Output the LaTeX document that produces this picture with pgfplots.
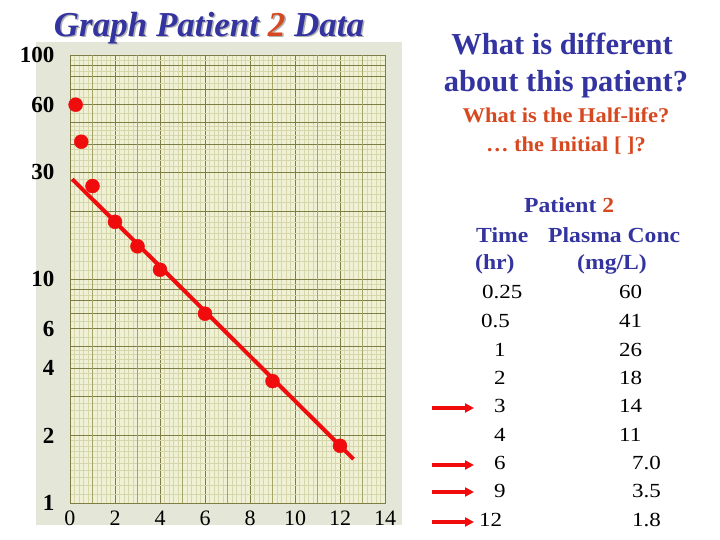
\documentclass[border=0pt]{standalone}
\usepackage{fontspec}
\setmainfont{Liberation Serif}
\newfontfamily\stretchA[FakeStretch=1.1]{Liberation Serif}
\newfontfamily\stretchB[FakeStretch=1.15]{Liberation Serif}
\newfontfamily\stretchC[FakeStretch=1.07]{Liberation Serif}
\usepackage{pgfplots}
\pgfplotsset{compat=1.18}
\usetikzlibrary{arrows.meta}
\definecolor{tblue}{RGB}{52,52,160}
\definecolor{tred}{RGB}{214,72,32}
\definecolor{paperc}{RGB}{228,230,216}
\definecolor{gridbg}{RGB}{240,240,212}
\definecolor{gmaj}{RGB}{125,125,68}
\definecolor{gmid}{RGB}{165,165,105}
\definecolor{gmin}{RGB}{214,214,172}
\definecolor{ptred}{RGB}{240,12,12}
\begin{document}
\begin{tikzpicture}
\path (0,0) rectangle (720pt,540pt);
\fill[paperc] (36pt,15pt) rectangle (402pt,498pt);
% title with shadow
\node[anchor=base, text=black!30, font=\bfseries\itshape\fontsize{35}{35}\selectfont] at (210.5pt,502pt) {Graph Patient 2 Data};
\node[anchor=base, text=tblue, font=\bfseries\itshape\fontsize{35}{35}\selectfont] at (209pt,503pt) {Graph Patient \textcolor{tred}{2} Data};
\begin{axis}[
  at={(70pt,37pt)}, anchor=south west,
  scale only axis, width=315pt, height=448pt,
  xmin=0, xmax=14, ymin=1, ymax=100, ymode=log,
  clip=false,
  axis background/.style={fill=gridbg},
  axis line style={draw=gmaj, line width=0.6pt},
  tick style={draw=none},
  xtick={0,2,...,14},
  minor x tick num=9,
  extra x ticks={1,3,5,7,9,11,13},
  extra x tick labels={},
  extra x tick style={grid=major, major grid style={draw=gmid, line width=0.5pt}},
  ytick={1,2,3,4,5,6,7,8,9,10,20,30,40,50,60,70,80,90,100},
  yticklabels={1,2,{},4,{},6,{},{},{},10,{},30,{},{},60,{},{},{},100},
  minor ytick={1.1,1.2,1.3,1.4,1.5,1.6,1.7,1.8,1.9,2.2,2.4,2.6,2.8,3.2,3.4,3.6,3.8,4.2,4.4,4.6,4.8,5.5,6.5,7.5,8.5,9.5,
    11,12,13,14,15,16,17,18,19,22,24,26,28,32,34,36,38,42,44,46,48,55,65,75,85,95},
  grid=both,
  major grid style={draw=gmaj, line width=0.6pt},
  minor grid style={draw=gmin, line width=0.35pt},
  /pgf/number format/assume math mode=true,
  xticklabel style={font=\fontsize{22}{22}\selectfont, yshift=-4pt},
  yticklabel style={font=\bfseries\fontsize{23}{23}\selectfont, xshift=-12pt},
]
\addplot[ptred, line width=4pt] coordinates {(0.1,27.9) (12.6,1.57)};
\addplot[only marks, mark=*, mark size=7pt, color=ptred] coordinates {
  (0.25,60) (0.5,41) (1,26) (2,18) (3,14) (4,11) (6,7.0) (9,3.5) (12,1.8)};
\end{axis}
% right-hand text
\node[anchor=base, text=tblue, font=\bfseries\fontsize{30.5}{30.5}\selectfont] at (562pt,485pt) {What is different};
\node[anchor=base, text=tblue, font=\bfseries\fontsize{30.5}{30.5}\selectfont] at (566pt,448pt) {about this patient?};
\node[anchor=base, text=tred, font=\stretchC\bfseries\fontsize{21}{21}\selectfont] at (566pt,417pt) {What is the Half-life?};
\node[anchor=base, text=tred, font=\stretchC\bfseries\fontsize{21}{21}\selectfont] at (566pt,388pt) {\dots\ the Initial [ ]?};
\begin{scope}[every node/.style={anchor=base west, inner sep=0pt, text=tblue, font=\stretchA\bfseries\fontsize{21.5}{21.5}\selectfont}]
\node at (524pt,327pt) {Patient \textcolor{tred}{2}};
\node at (476pt,297pt) {Time};
\node at (548pt,297pt) {Plasma Conc};
\node at (475pt,270pt) {(hr)};
\node at (577pt,270pt) {(mg/L)};
\end{scope}
\begin{scope}[every node/.style={anchor=base west, inner sep=0pt, font=\stretchB\fontsize{20}{20}\selectfont}]
\node at (482pt,241pt) {0.25}; \node at (619pt,241pt) {60};
\node at (481pt,212pt) {0.5};  \node at (619pt,212pt) {41};
\node at (494pt,183pt) {1};    \node at (619pt,183pt) {26};
\node at (494pt,155pt) {2};    \node at (619pt,155pt) {18};
\node at (494pt,127pt) {3};    \node at (619pt,127pt) {14};
\node at (494pt,98pt)  {4};    \node at (619pt,98pt)  {11};
\node at (494pt,70pt)  {6};    \node at (632pt,70pt)  {7.0};
\node at (494pt,42pt)  {9};    \node at (632pt,42pt)  {3.5};
\node at (479pt,13pt)  {12};   \node at (632pt,13pt)  {1.8};
\end{scope}
\foreach \yy in {132,75,48,18}{
  \draw[ptred, line width=3.5pt, -{Triangle[length=9pt,width=9pt]}] (432pt,\yy pt) -- (474pt,\yy pt);
}
\end{tikzpicture}
\end{document}
